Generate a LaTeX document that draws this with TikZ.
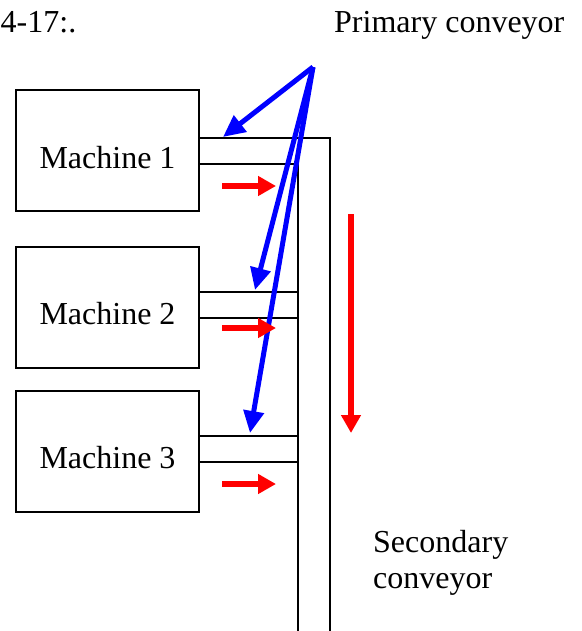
\documentclass[tikz,border=0pt]{standalone}
\usepackage{fontspec}
\setmainfont{Liberation Serif}
\usetikzlibrary{arrows.meta,positioning}
\definecolor{Flow}{HTML}{FF0000}
\definecolor{Feed}{HTML}{0000FF}
\definecolor{Ink}{HTML}{000000}
\tikzset{
  machine/.style={draw=Ink,line width=2pt,minimum width=183pt,minimum height=121pt,
    inner sep=0pt,text height=35pt,text depth=0pt,font=\fontsize{32}{36}\selectfont},
  txt/.style={inner sep=0pt,font=\fontsize{32}{36}\selectfont},
  belt/.style={Ink,line width=2pt},
  flow/.style={Flow,line width=6pt,-{Triangle[length=18pt,width=19pt]}},
  feed/.style={Feed,line width=5pt,-{Triangle[length=22pt,width=20pt]}}
}
\begin{document}
\begin{tikzpicture}[x=1pt,y=-1pt]
  \useasboundingbox (0,0) rectangle (581,631);
  % machines
  \foreach \i/\y in {1/150.5,2/307,3/451} {
    \node[machine] (m\i) at (107.5,\y) {Machine \i};
  }
  % conveyors
  \draw[belt] (199,138) -- (330,138) -- (330,640);
  \draw[belt] (199,164) -- (298,164) -- (298,640);
  \foreach \a/\b in {292/318,436/462} {
    \draw[belt] (199,\a) -- (298,\a);
    \draw[belt] (199,\b) -- (298,\b);
  }
  % texts
  \node[txt,anchor=base west] (fig) at (0.5,33) {4-17:.};
  \node[txt,anchor=base west] (prim) at (334,33) {Primary conveyor};
  \node[txt,anchor=base west] (sec) at (373,552) {Secondary};
  \node[txt,anchor=base west] (sec2) at (373,588) {conveyor};
  % primary conveyor pointers
  \coordinate (src) at (313,67);
  \coordinate (in1) at (223,137);
  \coordinate (in2) at (255,290);
  \coordinate (in3) at (250,433);
  \foreach \k in {1,2,3} {
    \draw[feed] (src) -- (in\k);
  }
  % product flow
  \foreach \y in {186,328,484} {
    \draw[flow] (222,\y) -- (276,\y);
  }
  \coordinate (top) at (351,214);
  \coordinate (bot) at (351,433);
  \draw[flow] (top) -- (bot);
\end{tikzpicture}
\end{document}
